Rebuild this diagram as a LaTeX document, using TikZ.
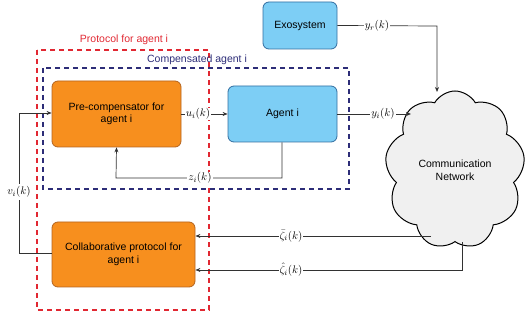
\documentclass[tikz,border=0pt]{standalone}
\usepackage{fontspec}
\setmainfont{Liberation Sans}
\usetikzlibrary{shapes.symbols,arrows.meta}
\definecolor{orfill}{RGB}{247,143,30}
\definecolor{ordraw}{RGB}{180,100,30}
\definecolor{blfill}{RGB}{125,206,245}
\definecolor{bldraw}{RGB}{50,110,160}
\definecolor{redd}{RGB}{225,40,50}
\definecolor{navy}{RGB}{45,45,120}
\definecolor{linec}{RGB}{50,50,50}
\tikzset{
  orbox/.style={draw=ordraw,fill=orfill,rounded corners=6pt,line width=0.8pt,align=center,font=\fontsize{10.5}{12.5}\selectfont},
  blbox/.style={draw=bldraw,fill=blfill,rounded corners=6pt,line width=0.8pt,align=center,font=\fontsize{10.5}{12.5}\selectfont},
  conn/.style={draw=linec,line width=0.7pt},
  arr/.style={conn,-{Stealth[length=5pt,width=4pt]}},
  lbl/.style={fill=white,inner sep=1pt,font=\fontsize{11}{13}\selectfont},
}
\begin{document}
\begin{tikzpicture}[x=1pt,y=-1pt]
\useasboundingbox (0,0) rectangle (528,320);
% dashed frames
\draw[redd,line width=1.6pt,dash pattern=on 5pt off 4pt] (37,50) rectangle (209,310);
\node[text=redd,font=\fontsize{10.5}{12}\selectfont] (plbl) at (124,40) {Protocol for agent i};
\draw[navy,line width=1.6pt,dash pattern=on 5pt off 4pt] (43,68) rectangle (349,189);
\node[text=navy,font=\fontsize{10.5}{12}\selectfont] (clbl) at (197,60) {Compensated agent i};
% blocks
\node[blbox,minimum width=74pt,minimum height=47pt] (exo) at (300,25.5) {Exosystem};
\node[blbox,minimum width=109pt,minimum height=56pt] (agent) at (282.5,114) {Agent i};
\node[orbox,minimum width=129pt,minimum height=66pt] (pre) at (116.5,114) {Pre-compensator for\\agent i};
\node[orbox,minimum width=143pt,minimum height=65pt] (col) at (123.5,254.5) {Collaborative protocol for\\agent i};
\node[cloud,cloud puffs=9,cloud puff arc=120,aspect=0.95,draw=black,fill=gray!12,line width=1pt,minimum width=140pt,minimum height=158pt,align=center,font=\fontsize{10.5}{12.5}\selectfont] (net) at (455,170) {Communication\\Network};
% connectors
\coordinate (yrc) at (437,26);
\coordinate (yrend) at (437,92);
\draw[arr] (exo.east) -- (yrc) -- (yrend);
\node[lbl] at (377,26) {$y_r(k)$};
\coordinate (yiend) at (411,114);
\draw[arr] (agent.east) -- (yiend);
\node[lbl] at (383,114) {$y_i(k)$};
\draw[arr] (pre.east) -- (agent.west |- pre.east);
\node[lbl] at (198,114) {$u_i(k)$};
\coordinate (zc) at (282,178);
\coordinate (zl) at (116,178);
\draw[arr] (agent.south -| zc) -- (zc) -- (zl) -- (pre.south);
\node[lbl] at (200,178) {$z_i(k)$};
\coordinate (vb) at (19,253);
\coordinate (vt) at (19,113);
\draw[arr] (col.west |- vb) -- (vb) -- (vt) -- (pre.west |- vt);
\node[lbl,inner sep=3pt] at (19,192) {$v_i(k)$};
\coordinate (zb) at (431,236);
\draw[arr] (zb) -- (col.east |- zb);
\node[lbl] at (291,236) {$\bar{\zeta}_i(k)$};
\coordinate (zh) at (462,270);
\draw[arr] (net.south -| zh) -- (zh) -- (col.east |- zh);
\node[lbl] at (291,270) {$\hat{\zeta}_i(k)$};
\end{tikzpicture}
\end{document}
